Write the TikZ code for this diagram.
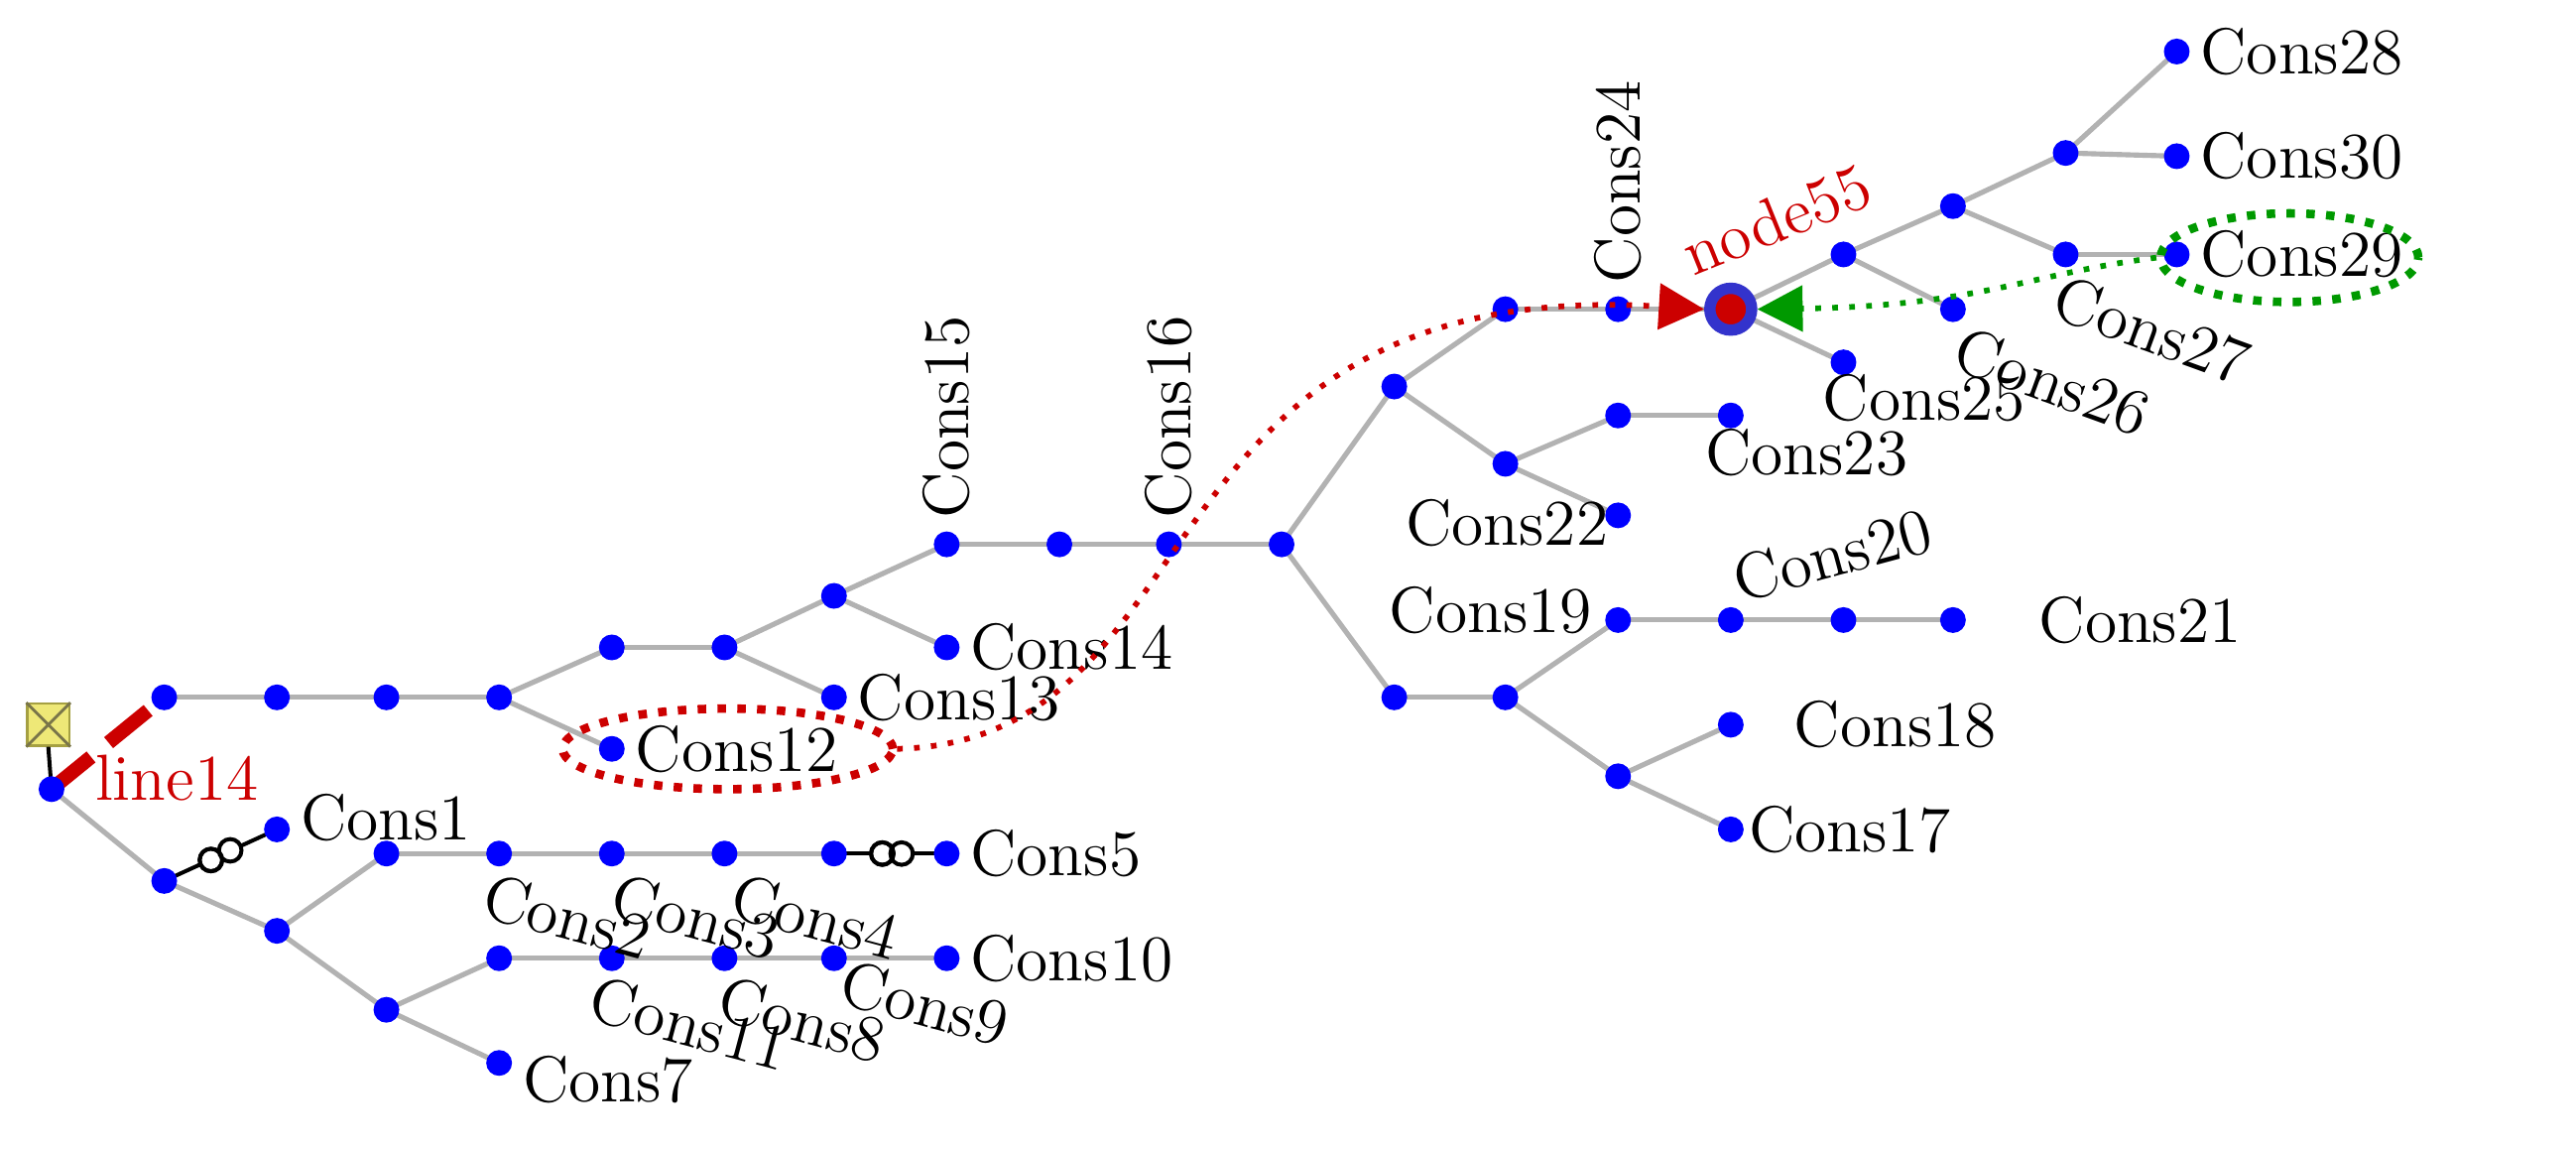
\documentclass[tikz,border=0pt]{standalone}
\usetikzlibrary{arrows.meta,shapes.geometric}
\begin{document}
\begin{tikzpicture}[x=0.01cm,y=-0.01cm,
  bus/.style={circle,fill=blue,inner sep=0pt,minimum size=0.16cm},
  edge/.style={draw=gray!60,line width=0.9pt},
  lab/.style={font=\fontsize{11.5}{13}\selectfont,inner sep=1pt},
  sw/.style={draw=black,line width=0.7pt}]
\useasboundingbox (0,0) rectangle (1600,713);
% coordinates
\foreach \n/\x/\y in {r/32/490,a1/102/433,a2/172/433,a3/240/433,a4/310/433,a5/380/402,a6/450/402,a7/518/370,a8/588/338,a9/658/338,a10/726/338,a11/796/338,
 c12/380/465,c13/518/433,c14/588/402,
 u1/866/240,u2/935/192,u3/1005/192,u4/935/288,u5/1005/258,c23/1075/258,c22/1005/320,
 m1/1145/158,m2/1213/128,m3/1283/95,c28/1352/32,c30/1352/97,c27/1283/158,c29/1352/158,c26/1213/192,c25/1145/225,
 d1/866/433,d2/935/433,d3/1005/385,c20/1075/385,d4/1145/385,c21/1213/385,d5/1005/482,c18/1075/450,c17/1075/515,
 b1/102/547,c1/172/515,b2/172/578,b3/240/530,c2/310/530,c3/380/530,c4/450/530,b4/518/530,c5/588/530,
 e1/240/627,e2/310/595,c11/380/595,c8/450/595,c9/518/595,c10/588/595,c7/310/660}
  {\coordinate (\n) at (\x,\y);}
% edges
\foreach \p/\q in {a1/a2,a2/a3,a3/a4,a4/a5,a5/a6,a6/a7,a7/a8,a8/a9,a9/a10,a10/a11,a4/c12,a6/c13,a7/c14,
 a11/u1,u1/u2,u2/u3,u1/u4,u4/u5,u5/c23,u4/c22,
 m1/m2,m2/m3,m3/c28,m3/c30,m2/c27,c27/c29,m1/c26,
 a11/d1,d1/d2,d2/d3,d3/c20,c20/d4,d4/c21,d2/d5,d5/c18,d5/c17,
 r/b1,b1/b2,b2/b3,b3/c2,c2/c3,c3/c4,c4/b4,b2/e1,e1/e2,e2/c11,c11/c8,c8/c9,c9/c10,e1/c7}
  {\draw[edge] (\p) -- (\q);}
\coordinate (n55) at (1075,192);
\draw[edge] (u3) -- (n55); \draw[edge] (n55) -- (m1); \draw[edge] (n55) -- (c25);
% line14
\draw[red!80!black,line width=2.5pt,dash pattern=on 9pt off 4pt] (r) -- (a1);
% source
\node[draw=yellow!60!black,fill=yellow!70!olive!50,minimum size=0.26cm,inner sep=0pt] (src) at (30,450) {};
\draw[yellow!40!black,line width=0.5pt] (src.north west)--(src.south east) (src.north east)--(src.south west);
\draw[black,line width=0.7pt] (src.south) -- (r);
% transformers
\draw[sw] (b1) -- (c1);
\draw[sw] (b4) -- (c5);
% buses
\foreach \n in {r,a1,a2,a3,a4,a5,a6,a7,a8,a9,a10,a11,c12,c13,c14,u1,u2,u3,u4,u5,c23,c22,m1,m2,m3,c28,c30,c27,c29,c26,c25,
 d1,d2,d3,c20,d4,c21,d5,c18,c17,b1,c1,b2,b3,c2,c3,c4,b4,c5,e1,e2,c11,c8,c9,c10,c7}
  \node[bus] (N\n) at (\n) {};
\node[circle,fill=red!80!black,draw=blue!60!gray,line width=2pt,minimum size=0.26cm,inner sep=0pt] (node55) at (n55) {};
\draw[sw,fill=white] (131,534) circle (0.07cm) (143,528) circle (0.07cm);
\draw[sw,fill=white] (548,530) circle (0.07cm) (560,530) circle (0.07cm);
\draw[sw] (131,534) circle (0.07cm);
\draw[sw] (548,530) circle (0.07cm);
% labels
\node[lab,anchor=west] at (c1) [xshift=3pt,yshift=2pt] {Cons1};
\node[lab,anchor=west] at (c5) [xshift=3pt] {Cons5};
\node[lab,anchor=west] at (c10) [xshift=3pt] {Cons10};
\node[lab,anchor=west] at (c7) [xshift=3pt,yshift=-3pt] {Cons7};
\node[lab,anchor=west] at (c12) [xshift=3pt] {Cons12};
\node[lab,anchor=west] at (c13) [xshift=3pt] {Cons13};
\node[lab,anchor=west] at (c14) [xshift=3pt] {Cons14};
\node[lab,anchor=west,rotate=90] at (588,326) {Cons15};
\node[lab,anchor=west,rotate=90] at (726,326) {Cons16};
\node[lab,anchor=west,rotate=90] at (1005,180) {Cons24};
\node[lab,anchor=west] at (c28) [xshift=3pt] {Cons28};
\node[lab,anchor=west] at (c30) [xshift=3pt] {Cons30};
\node[lab,anchor=west] at (c29) [xshift=3pt] {Cons29};
\node[lab,anchor=north west,rotate=-20] at (1280,164) {Cons27};
\node[lab,anchor=north west,rotate=-20] at (1218,196) {Cons26};
\node[lab,anchor=north west] at (1128,228) {Cons25};
\node[lab,anchor=north west] at (1055,262) {Cons23};
\node[lab,anchor=north east] at (1003,306) {Cons22};
\node[lab,anchor=south east] at (993,398) {Cons19};
\node[lab,anchor=south west,rotate=15] at (1078,380) {Cons20};
\node[lab,anchor=west] at (c21) [xshift=14pt] {Cons21};
\node[lab,anchor=west] at (c18) [xshift=10pt] {Cons18};
\node[lab,anchor=west] at (c17) [xshift=2pt] {Cons17};
\node[lab,anchor=north west,rotate=-15] at (302,536) {Cons2};
\node[lab,anchor=north west,rotate=-15] at (382,536) {Cons3};
\node[lab,anchor=north west,rotate=-15] at (456,536) {Cons4};
\node[lab,anchor=north west,rotate=-15] at (368,600) {Cons11};
\node[lab,anchor=north west,rotate=-15] at (448,600) {Cons8};
\node[lab,anchor=north west,rotate=-15] at (524,590) {Cons9};
\node[lab,anchor=west,text=red!80!black] at (55,483) {line14};
\node[lab,anchor=south west,text=red!80!black,rotate=22] at (1050,178) {node55};
% annotation ellipses and arrows
\node[draw=red!80!black,dotted,line width=1.5pt,ellipse,minimum width=2.05cm,minimum height=0.5cm] (e12) at (452,465) {};
\draw[red!80!black,dotted,line width=1pt,-{Triangle[length=8pt,width=8pt]}] (e12.east) .. controls (760,460) and (700,170) .. (node55.west);
\node[draw=green!60!black,dotted,line width=1.5pt,ellipse,minimum width=1.6cm,minimum height=0.55cm] (e29) at (1422,160) {};
\draw[green!60!black,dotted,line width=1pt,-{Triangle[length=8pt,width=8pt]}] (e29.west) .. controls (1260,170) and (1230,190) .. (node55.east);
\end{tikzpicture}
\end{document}
